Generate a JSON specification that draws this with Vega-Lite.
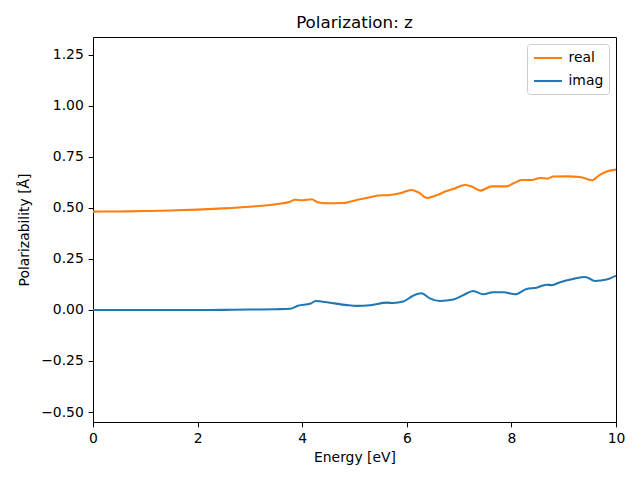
{
  "$schema": "https://vega.github.io/schema/vega-lite/v6.json",
  "width": 523,
  "height": 385,
  "autosize": {"type": "none"},
  "padding": {"left": 93, "top": 37, "right": 24, "bottom": 58},
  "background": "white",
  "title": {"text": "Polarization: z", "font": "DejaVu Sans", "fontSize": 16.7, "fontWeight": "normal", "color": "black", "offset": 5},
  "datasets": {
    "real": [
      {"E":0,"v":0.482},{"E":0.5,"v":0.483},{"E":1,"v":0.485},{"E":1.5,"v":0.488},{"E":2,"v":0.492},{"E":2.5,"v":0.498},{"E":3,"v":0.506},{"E":3.5,"v":0.518},{"E":3.77,"v":0.531},{"E":3.86,"v":0.540},{"E":4.0,"v":0.538},{"E":4.18,"v":0.543},{"E":4.3,"v":0.528},{"E":4.45,"v":0.523},{"E":4.78,"v":0.524},{"E":4.91,"v":0.530},{"E":5.1,"v":0.543},{"E":5.25,"v":0.550},{"E":5.42,"v":0.560},{"E":5.68,"v":0.564},{"E":5.87,"v":0.572},{"E":6.09,"v":0.588},{"E":6.22,"v":0.577},{"E":6.39,"v":0.549},{"E":6.57,"v":0.562},{"E":6.76,"v":0.583},{"E":6.89,"v":0.593},{"E":7.11,"v":0.613},{"E":7.24,"v":0.605},{"E":7.41,"v":0.585},{"E":7.62,"v":0.606},{"E":7.91,"v":0.606},{"E":8.04,"v":0.621},{"E":8.20,"v":0.637},{"E":8.39,"v":0.637},{"E":8.55,"v":0.647},{"E":8.69,"v":0.644},{"E":8.80,"v":0.654},{"E":9.06,"v":0.655},{"E":9.31,"v":0.652},{"E":9.54,"v":0.636},{"E":9.69,"v":0.662},{"E":9.85,"v":0.681},{"E":10,"v":0.688}
    ],
    "imag": [
      {"E":0,"v":0},{"E":1,"v":0},{"E":2,"v":0},{"E":2.5,"v":0.0005},{"E":3,"v":0.002},{"E":3.5,"v":0.004},{"E":3.77,"v":0.006},{"E":3.92,"v":0.021},{"E":4.15,"v":0.03},{"E":4.26,"v":0.044},{"E":4.5,"v":0.037},{"E":4.85,"v":0.024},{"E":5.04,"v":0.020},{"E":5.30,"v":0.023},{"E":5.62,"v":0.036},{"E":5.74,"v":0.034},{"E":5.93,"v":0.041},{"E":6.12,"v":0.070},{"E":6.28,"v":0.082},{"E":6.44,"v":0.057},{"E":6.63,"v":0.044},{"E":6.89,"v":0.051},{"E":7.08,"v":0.073},{"E":7.27,"v":0.093},{"E":7.46,"v":0.077},{"E":7.65,"v":0.087},{"E":7.85,"v":0.087},{"E":8.07,"v":0.077},{"E":8.29,"v":0.103},{"E":8.48,"v":0.109},{"E":8.67,"v":0.124},{"E":8.77,"v":0.122},{"E":8.93,"v":0.136},{"E":9.18,"v":0.152},{"E":9.41,"v":0.162},{"E":9.60,"v":0.142},{"E":9.82,"v":0.149},{"E":10,"v":0.168}
    ]
  },
  "layer": [
    {
      "data": {"name": "real"},
      "transform": [{"calculate": "'real'", "as": "part"}],
      "mark": {"type": "line", "strokeWidth": 2.08, "interpolate": "monotone", "clip": true},
      "encoding": {
        "x": {"field": "E", "type": "quantitative"},
        "y": {"field": "v", "type": "quantitative"},
        "color": {"field": "part", "type": "nominal"}
      }
    },
    {
      "data": {"name": "imag"},
      "transform": [{"calculate": "'imag'", "as": "part"}],
      "mark": {"type": "line", "strokeWidth": 2.08, "interpolate": "monotone", "clip": true},
      "encoding": {
        "x": {"field": "E", "type": "quantitative"},
        "y": {"field": "v", "type": "quantitative"},
        "color": {"field": "part", "type": "nominal"}
      }
    }
  ],
  "encoding": {
    "x": {"field": "E", "type": "quantitative", "title": "Energy [eV]",
      "scale": {"domain": [0, 10], "nice": false, "zero": false},
      "axis": {"values": [0,2,4,6,8,10], "format": "d"}},
    "y": {"field": "v", "type": "quantitative", "title": "Polarizability [Å]",
      "scale": {"domain": [-0.549, 1.338], "nice": false, "zero": false},
      "axis": {"values": [-0.5,-0.25,0,0.25,0.5,0.75,1.0,1.25], "format": ".2f"}},
    "color": {"field": "part", "type": "nominal",
      "scale": {"domain": ["real", "imag"], "range": ["#ff7f0e", "#1f77b4"]},
      "legend": {"title": null, "orient": "top-right", "offset": 7}}
  },
  "config": {
    "view": {"stroke": "black", "strokeWidth": 1},
    "axis": {
      "grid": false, "domain": false, "labelFlush": false,
      "tickColor": "black", "tickSize": 4.86, "tickWidth": 1,
      "labelColor": "black", "labelFont": "DejaVu Sans", "labelFontSize": 13.9, "labelPadding": 4.86,
      "titleColor": "black", "titleFont": "DejaVu Sans", "titleFontSize": 13.9, "titleFontWeight": "normal"
    },
    "axisX": {"titlePadding": 5},
    "axisY": {"titlePadding": 9},
    "legend": {
      "strokeColor": "#cccccc", "fillColor": "white", "cornerRadius": 3, "padding": 5.5,
      "symbolType": "M-2,0L2,0", "symbolSize": 196, "symbolStrokeWidth": 2.08, "symbolOffset": 7,
      "labelFont": "DejaVu Sans", "labelFontSize": 13.9, "labelColor": "black",
      "rowPadding": 7, "labelOffset": 12
    }
  }
}
